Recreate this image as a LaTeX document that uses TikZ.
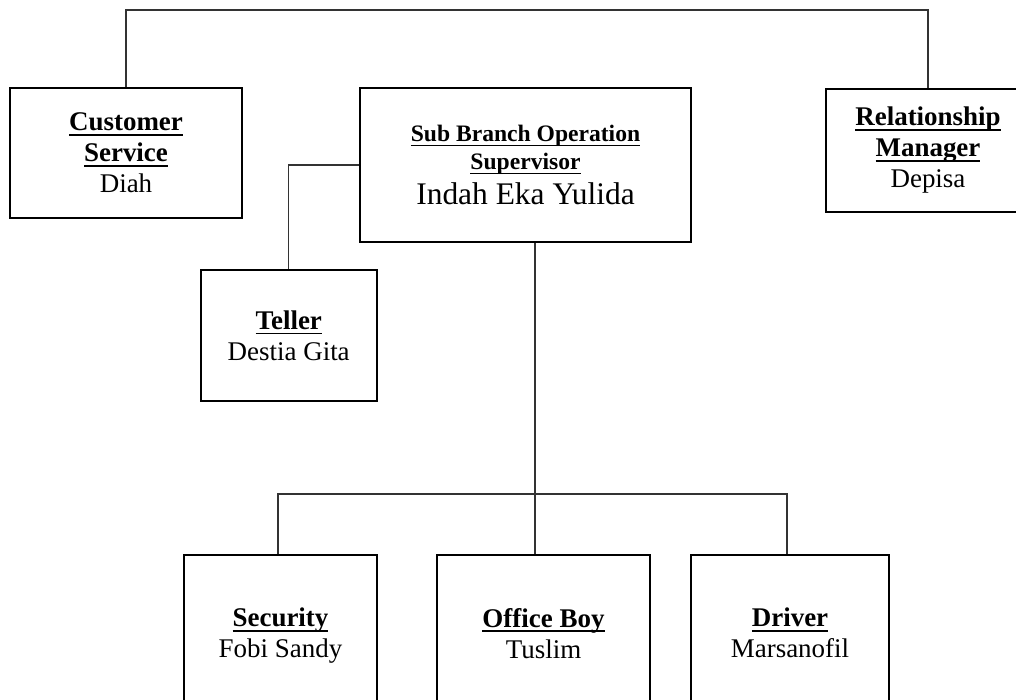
\documentclass[tikz,border=0pt]{standalone}
\usepackage{amsmath}
\usepackage{fontspec}
\setmainfont{Liberation Serif}
\usepackage{tikz}
\newcommand{\ttl}[1]{\mbox{\setbox0=\hbox{\bfseries #1}\rlap{\rule[-2.3pt]{\wd0}{0.8pt}}\box0}}

\begin{document}
\begin{tikzpicture}[x=0.445pt, y=-0.445pt, font=\fontsize{12}{13.8}\selectfont,
  box/.style={draw, line width=0.9pt, align=center, inner sep=0pt, minimum height=57.9pt},
  low/.style={box, minimum height=72.1pt},
  link/.style={line width=0.5pt, draw=black!80}]
  \useasboundingbox (0,0) rectangle (1016,700);
  \clip (0,0) rectangle (1016,700);
  \node[box, minimum width=103.2pt] (cs) at (126,153) {\ttl{Customer}\\\ttl{Service}\\Diah};
  \node[box, minimum width=147.3pt, minimum height=68.5pt, font=\fontsize{10.5}{12.5}\selectfont] (sbos) at (525.5,165)
    {\ttl{Sub Branch Operation}\\\ttl{Supervisor}\\[3.3pt]{\fontsize{14}{16}\selectfont Indah Eka Yulida}};
  \node[box, minimum width=90.8pt, minimum height=54.7pt] (rm) at (928,150.5) {\ttl{Relationship}\\\ttl{Manager}\\Depisa};
  \node[box, minimum width=78.3pt] (tel) at (288.7,335.5) {\ttl{Teller}\\Destia Gita};
  \node[low, minimum width=85.9pt] (sec) at (280.5,636) {\ttl{Security}\\Fobi Sandy};
  \node[low, minimum width=94.8pt] (ob) at (543.5,636) {\ttl{Office Boy}\\Tuslim\vphantom{y}};
  \node[low, minimum width=88.1pt] (drv) at (790,636) {\ttl{Driver}\\Marsanofil\vphantom{y}};
  \coordinate (top) at (0,10);
  \coordinate (hub) at (535,494);
  \coordinate (bl) at (278,494);
  \coordinate (br) at (787,494);
  \draw[link] (cs.north) -- (cs.north |- top) -- (rm.north |- top) -- (rm.north);
  \draw[link] (sbos.west) -| (tel.north);
  \draw[link] (hub |- sbos.south) -- (hub) -- (hub |- ob.north);
  \draw[link] (bl |- sec.north) -- (bl) -- (br) -- (br |- drv.north);
\end{tikzpicture}
\end{document}
